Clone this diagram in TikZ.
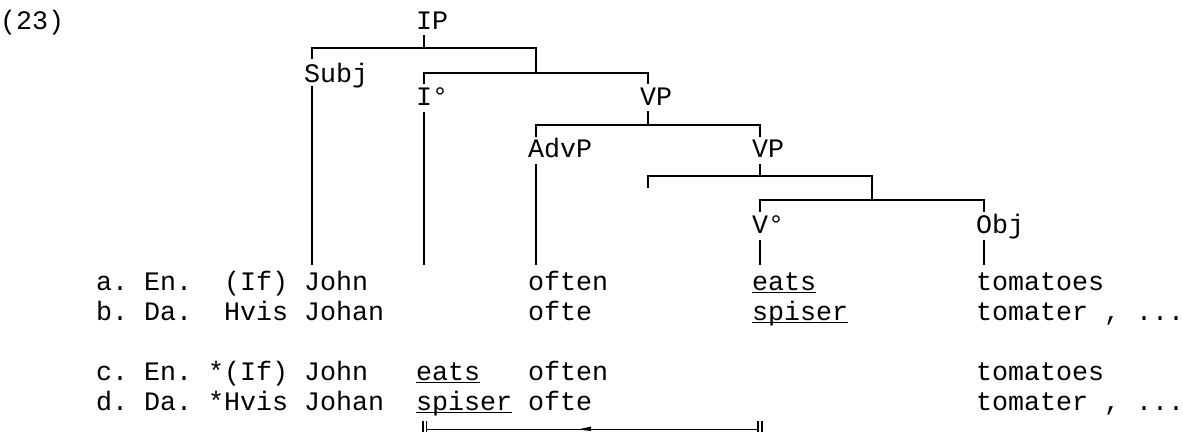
\documentclass[tikz,border=0pt]{standalone}
\usepackage{fontspec}
\setmainfont{Liberation Mono}
\begin{document}
\frenchspacing
\begin{tikzpicture}[x=1pt,y=-1pt,
  lbl/.style={anchor=base west,inner sep=0pt,outer sep=0pt,font=\fontsize{26.67pt}{30pt}\selectfont},
  br/.style={line width=2pt,line join=miter},
  ul/.style={line width=1.5pt},
  thinl/.style={line width=1.2pt}]
\useasboundingbox (0,0) rectangle (1183,432);
% tree labels
\node[lbl] (num) at (0,29) {(23)};
\node[lbl] (IP) at (416,29) {IP};
\node[lbl] (Subj) at (304,82) {Subj};
\node[lbl] (I0) at (416,105) {I°};
\node[lbl] (VPa) at (640,105) {VP};
\node[lbl] (AdvP) at (528,157) {AdvP};
\node[lbl] (VPb) at (752,157) {VP};
\node[lbl] (V0) at (752,233) {V°};
\node[lbl] (Obj) at (976,233) {Obj};
% junction coordinates
\coordinate (j1) at (424,48);
\coordinate (j2) at (536,73);
\coordinate (j3) at (648,125);
\coordinate (j4) at (760,176);
\coordinate (j5) at (872,200);
% branches
\draw[br] ([shift={(8,6)}]IP.base west) -- (j1);
\draw[br] (312,59) -- (312,48) -- (536,48) -- (j2);
\draw[br] (424,84) -- (424,73) -- (648,73) -- (648,84);
\draw[br] ([shift={(8,6)}]VPa.base west) -- (j3);
\draw[br] (536,137) -- (536,125) -- (760,125) -- (760,137);
\draw[br] ([shift={(8,7)}]VPb.base west) -- (j4);
\draw[br] (648,188) -- (648,176) -- (872,176) -- (j5);
\draw[br] (760,212) -- (760,200) -- (984,200) -- (984,212);
% leaves
\coordinate (e1) at (312,265);
\coordinate (e2) at (424,265);
\coordinate (e3) at (536,265);
\coordinate (e4) at (760,265);
\coordinate (e5) at (984,265);
\draw[br] ([shift={(8,4)}]Subj.base west) -- (e1);
\draw[br] ([shift={(8,7)}]I0.base west) -- (e2);
\draw[br] ([shift={(8,7)}]AdvP.base west) -- (e3);
\draw[br] ([shift={(8,7)}]V0.base west) -- (e4);
\draw[br] ([shift={(8,7)}]Obj.base west) -- (e5);
% row a
\node[lbl] (a1) at (96,290) {a. En.};
\node[lbl] (a2) at (224,290) {(If) John};
\node[lbl] (a3) at (528,290) {often};
\node[lbl] (a4) at (752,290) {eats};
\node[lbl] (a5) at (976,290) {tomatoes};
% row b
\node[lbl] (b1) at (96,320) {b. Da.};
\node[lbl] (b2) at (224,320) {Hvis Johan};
\node[lbl] (b3) at (528,320) {ofte};
\node[lbl] (b4) at (752,320) {spiser};
\node[lbl] (b5) at (976,320) {tomater , ...};
% row c
\node[lbl] (c1) at (96,380) {c. En.};
\node[lbl] (c2) at (208,380) {*(If) John};
\node[lbl] (c3) at (416,380) {eats};
\node[lbl] (c4) at (528,380) {often};
\node[lbl] (c5) at (976,380) {tomatoes};
% row d
\node[lbl] (d1) at (96,410) {d. Da.};
\node[lbl] (d2) at (208,410) {*Hvis Johan};
\node[lbl] (d3) at (416,410) {spiser};
\node[lbl] (d4) at (528,410) {ofte};
\node[lbl] (d5) at (976,410) {tomater , ...};
% underlines
\foreach \n in {a4,b4,c3,d3}
  \draw[ul] ([yshift=-2.5pt]\n.base west) -- ([yshift=-2.5pt]\n.base east);
% movement arrow
\coordinate (ml) at (426.5,429.3);
\coordinate (mr) at (758,429.3);
\draw[thinl] (423,421) -- (423,432);
\draw[thinl] (426.5,421) -- (426.5,432);
\draw[thinl] (758,421) -- (758,432);
\draw[thinl] (762,421) -- (762,432);
\draw[thinl] (ml) -- (mr);
\fill (578,429.5) -- (591,426.5) -- (591,431) -- cycle;
\end{tikzpicture}
\end{document}
